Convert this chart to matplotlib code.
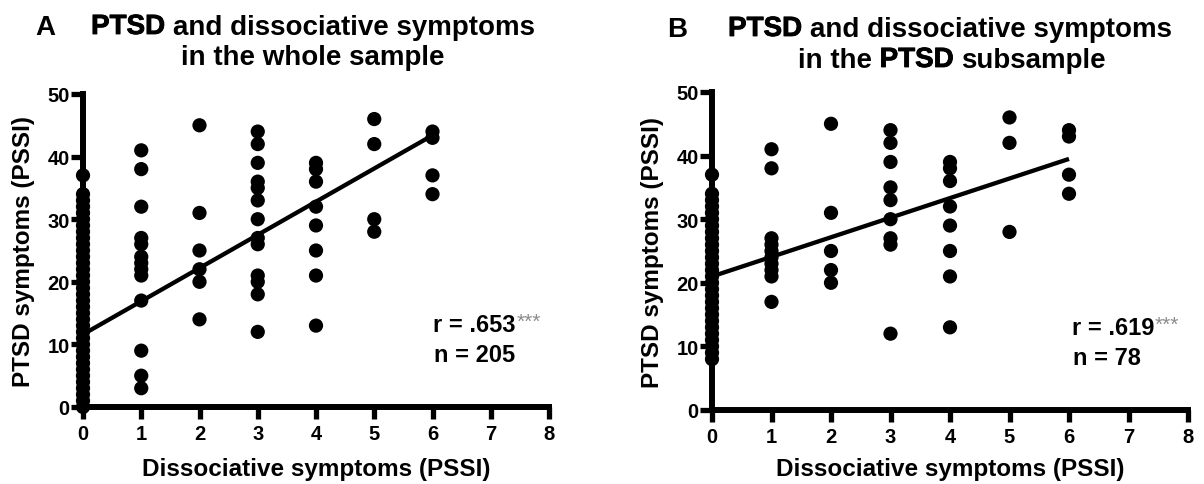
import matplotlib
matplotlib.use("Agg")
import matplotlib.pyplot as plt
import matplotlib.patheffects as pe

plt.rcParams['font.family'] = ['Liberation Sans', 'DejaVu Sans']

# ---------------- data ----------------
# Panel A: whole sample (x = dissociative symptoms, y = PTSD symptoms)
a_x0 = [0, 1, 2, 3, 4, 5, 6, 7, 8, 9, 10, 11, 12, 13, 14, 15, 16, 17, 18, 19,
        20, 21, 22, 23, 24, 25, 26, 27, 28, 29, 30, 31, 32, 33, 34, 37]
a_x1 = [41, 38, 32, 27, 26, 24, 23, 22, 21, 17, 9, 5, 3]
a_x2 = [45, 31, 25, 22, 20, 14]
a_x3 = [44, 42, 39, 36, 35, 33, 30, 27, 26, 21, 20, 18, 12]
a_x4 = [39, 38, 36, 32, 29, 25, 21, 13]
a_x5 = [46, 42, 30, 28]
a_x6 = [44, 43, 37, 34]
a_intercept, a_slope = 11.6, 5.3
a_r, a_n = ".653", "205"

# Panel B: PTSD subsample
b_x0 = [8, 9, 10, 11, 12, 13, 14, 15, 16, 17, 18, 19, 20, 21, 22, 23, 24, 25,
        26, 27, 28, 29, 30, 31, 32, 33, 34, 37]
b_x1 = [41, 38, 27, 26, 25, 24, 23, 22, 21, 17]
b_x2 = [45, 31, 25, 22, 20]
b_x3 = [44, 42, 39, 35, 33, 30, 27, 26, 12]
b_x4 = [39, 38, 36, 32, 29, 25, 21, 13]
b_x5 = [46, 42, 28]
b_x6 = [44, 43, 37, 34]
b_intercept, b_slope = 21.0, 3.08
b_r, b_n = ".619", "78"

x_ticks = [0, 1, 2, 3, 4, 5, 6, 7, 8]
y_ticks = [0, 10, 20, 30, 40, 50]
x_label = "Dissociative symptoms (PSSI)"
y_label = "PTSD symptoms (PSSI)"

W, H = 1204, 485
fig = plt.figure(figsize=(W / 100, H / 100), dpi=100)


def px(x, y):
    return x / W, 1 - y / H


def panel(rect, cols, intercept, slope, r, n, ann_xy):
    l, t, r_, b = rect
    ax = fig.add_axes([l / W, 1 - b / H, (r_ - l) / W, (b - t) / H])
    for xv, ys in enumerate(cols):
        ax.scatter([xv] * len(ys), ys, s=105, color='black', edgecolors='none',
                   zorder=3, clip_on=False)
    xs = [0, 6]
    ax.plot(xs, [intercept + slope * v for v in xs], color='black', lw=3.1,
            zorder=4, solid_capstyle='butt')
    ax.set_xlim(0, 8)
    ax.set_ylim(0, 50)
    ax.set_xticks(x_ticks)
    ax.set_yticks(y_ticks)
    for s in ['top', 'right']:
        ax.spines[s].set_visible(False)
    for s in ['left', 'bottom']:
        ax.spines[s].set_linewidth(4.3)
    ax.tick_params(axis='both', length=8.5, width=3.8, labelsize=14.5)
    ax.tick_params(axis='x', pad=4)
    ax.tick_params(axis='y', pad=1)
    for lab in ax.get_xticklabels() + ax.get_yticklabels():
        lab.set_fontweight('bold')
    ax.set_xlabel(x_label, fontsize=17.5, fontweight='bold')
    ax.xaxis.label.set_va('baseline')
    ax.xaxis.set_label_coords(0.5, -(476 - b) / (b - t))
    ax.set_ylabel(y_label, fontsize=17.5, fontweight='bold')
    ax.yaxis.set_label_coords(-48 / (r_ - l), 0.5)
    ax.set_facecolor('none')
    # annotation
    ax_, ay_ = ann_xy
    t1 = fig.text(*px(ax_, ay_), f"r = {r}", fontsize=17, fontweight='bold',
                  va='baseline', ha='left')
    fig.text(*px(ax_ + 1, ay_ + 30), f"n = {n}", fontsize=17, fontweight='bold',
             va='baseline', ha='left')
    ax.annotate("***", xy=(1, 1), xycoords=t1, xytext=(0.5, 1),
                textcoords='offset points', va='top', ha='left',
                fontsize=15, color='#8c8c8c')
    return ax


axA = panel((83, 95, 549, 408), [a_x0, a_x1, a_x2, a_x3, a_x4, a_x5, a_x6],
            a_intercept, a_slope, a_r, a_n, (433, 332))
axB = panel((712, 93, 1188, 411), [b_x0, b_x1, b_x2, b_x3, b_x4, b_x5, b_x6],
            b_intercept, b_slope, b_r, b_n, (1072, 335))

# titles: "PTSD" drawn a little heavier than the rest
TFS = 20
EMPH = [pe.withStroke(linewidth=0.6, foreground='black')]
fig.text(*px(35, 35), "A", fontsize=TFS, fontweight='bold', va='baseline', ha='left')
fig.text(*px(667, 37), "B", fontsize=TFS, fontweight='bold', va='baseline', ha='left')

fig.canvas.draw()
renderer = fig.canvas.get_renderer()


def width(s):
    tmp = fig.text(0, 0, s, fontsize=TFS, fontweight='bold')
    w = tmp.get_window_extent(renderer).width
    tmp.remove()
    return w


def title_line(xc, yb, pre, word, post):
    full = " ".join(p for p in [pre, word, post] if p)
    x0 = xc - width(full) / 2
    x1 = xc + width(full) / 2
    y = 1 - yb / H
    kw = dict(fontsize=TFS, fontweight='bold', va='baseline')
    if pre:
        fig.text(x0 / W, y, pre, ha='left', **kw)
        fig.text((x0 + width(pre + " " + word)) / W, y, word, ha='right',
                 path_effects=EMPH, **kw)
    else:
        fig.text(x0 / W, y, word, ha='left', path_effects=EMPH, **kw)
    if post:
        fig.text(x1 / W, y, post, ha='right', **kw)


title_line(313, 35, "", "PTSD", "and dissociative symptoms")
fig.text(*px(313, 65), "in the whole sample", fontsize=TFS, fontweight='bold',
         va='baseline', ha='center')
title_line(950, 37, "", "PTSD", "and dissociative symptoms")
title_line(952, 68, "in the", "PTSD", "subsample")

fig.savefig("out.png", dpi=100)
